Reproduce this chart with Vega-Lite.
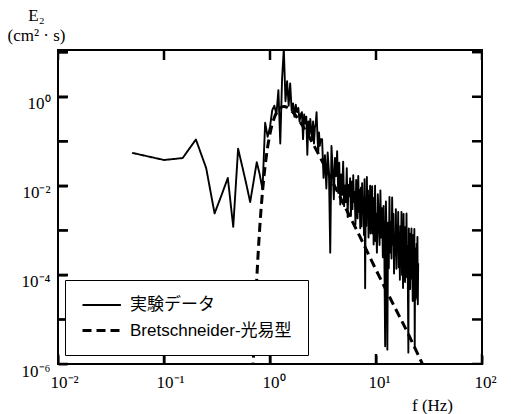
{
  "$schema": "https://vega.github.io/schema/vega-lite/v6.json",
  "width": 424,
  "height": 314,
  "autosize": {"type": "none"},
  "padding": {"left": 58, "top": 50, "right": 29, "bottom": 50},
  "background": "white",
  "datasets": {
    "xt": [{"v": 0.01}, {"v": 0.1}, {"v": 1}, {"v": 10}, {"v": 100}],
    "yt": [{"v": 1e-6}, {"v": 1e-5}, {"v": 1e-4}, {"v": 1e-3}, {"v": 1e-2}, {"v": 1e-1}, {"v": 1}, {"v": 10}],
    "exp": [
      {"f":0.05,"E":0.055},{"f":0.1,"E":0.038},{"f":0.15,"E":0.042},{"f":0.2,"E":0.11},{"f":0.25,"E":0.025},{"f":0.3,"E":0.0024},{"f":0.35,"E":0.0063},{"f":0.4,"E":0.015},{"f":0.45,"E":0.0012},{"f":0.5,"E":0.068},{"f":0.55,"E":0.026},{"f":0.6,"E":0.0105},{"f":0.65,"E":0.0043},{"f":0.7,"E":0.0125},{"f":0.75,"E":0.034},{"f":0.8,"E":0.018},{"f":0.85,"E":0.0083},{"f":0.9,"E":0.26},{"f":0.95,"E":0.126},
      {"f":1.0,"E":0.21},{"f":1.05,"E":0.5},{"f":1.1,"E":0.63},{"f":1.15,"E":0.4},{"f":1.2,"E":1.41},{"f":1.25,"E":0.089},{"f":1.3,"E":2.51},{"f":1.35,"E":12},{"f":1.4,"E":0.79},{"f":1.45,"E":2.24},{"f":1.5,"E":0.63},{"f":1.55,"E":2.0},{"f":1.6,"E":0.5},{"f":1.65,"E":0.71},{"f":1.7,"E":0.355},{"f":1.75,"E":0.66},{"f":1.8,"E":0.45},{"f":1.85,"E":0.56},{"f":1.9,"E":0.28},{"f":1.95,"E":0.4},
      {"f":2.0,"E":0.45},{"f":2.05,"E":0.112},{"f":2.1,"E":0.4},{"f":2.15,"E":0.25},{"f":2.2,"E":0.355},{"f":2.25,"E":0.05},{"f":2.3,"E":0.28},{"f":2.35,"E":0.141},{"f":2.4,"E":0.316},{"f":2.45,"E":0.178},{"f":2.5,"E":0.112},{"f":2.55,"E":0.28},{"f":2.6,"E":0.089},{"f":2.65,"E":0.2},{"f":2.7,"E":0.25},{"f":2.75,"E":0.45},{"f":2.8,"E":0.141},{"f":2.85,"E":0.056},{"f":2.9,"E":0.158},{"f":2.95,"E":0.079},{"f":3.0,"E":0.112},
      {"f":3.1,"E":0.112},{"f":3.2,"E":0.0151},{"f":3.3,"E":0.049},{"f":3.4,"E":0.0087},{"f":3.5,"E":0.056},{"f":3.6,"E":0.02},{"f":3.7,"E":0.000316},{"f":3.8,"E":0.079},{"f":3.9,"E":0.0245},{"f":4.0,"E":0.005},
      {"f":4.1,"E":0.042},{"f":4.2,"E":0.0166},{"f":4.3,"E":0.06},{"f":4.4,"E":0.0069},{"f":4.5,"E":0.033},{"f":4.6,"E":0.0038},{"f":4.7,"E":0.018},{"f":4.8,"E":0.0063},{"f":4.9,"E":0.035},{"f":5.0,"E":0.0035},
      {"f":5.1,"E":0.0102},{"f":5.2,"E":0.0043},{"f":5.3,"E":0.025},{"f":5.4,"E":0.002},{"f":5.5,"E":0.0105},{"f":5.6,"E":0.0058},{"f":5.7,"E":0.0148},{"f":5.8,"E":0.0021},{"f":5.9,"E":0.0123},{"f":6.0,"E":0.003},
      {"f":6.1,"E":0.0174},{"f":6.2,"E":0.0043},{"f":6.3,"E":0.0072},{"f":6.4,"E":0.00135},{"f":6.5,"E":0.0135},{"f":6.6,"E":0.005},{"f":6.7,"E":0.00186},{"f":6.8,"E":0.0166},{"f":6.9,"E":0.0026},{"f":7.0,"E":0.0081},
      {"f":7.1,"E":0.00112},{"f":7.2,"E":0.0091},{"f":7.3,"E":0.00123},{"f":7.4,"E":0.0115},{"f":7.5,"E":0.00245},{"f":7.6,"E":0.0051},{"f":7.7,"E":0.00079},{"f":7.8,"E":0.0141},{"f":7.9,"E":0.00005},{"f":8.0,"E":0.0054},
      {"f":8.1,"E":0.00126},{"f":8.2,"E":0.0158},{"f":8.3,"E":0.00224},{"f":8.4,"E":0.0079},{"f":8.5,"E":0.00069},{"f":8.6,"E":0.0034},{"f":8.7,"E":0.00148},{"f":8.8,"E":0.01},{"f":8.9,"E":0.00085},{"f":9.0,"E":0.005},
      {"f":9.1,"E":0.00214},{"f":9.2,"E":0.0098},{"f":9.3,"E":0.00085},{"f":9.4,"E":0.004},{"f":9.5,"E":0.00048},{"f":9.6,"E":0.0054},{"f":9.7,"E":0.00155},{"f":9.8,"E":0.01},{"f":9.9,"E":0.000575},{"f":10.0,"E":0.0024},
      {"f":10.2,"E":0.000316},{"f":10.4,"E":0.0065},{"f":10.6,"E":0.00174},{"f":10.8,"E":0.00047},{"f":11.0,"E":0.0079},{"f":11.2,"E":0.00069},{"f":11.4,"E":0.00316},{"f":11.6,"E":0.00025},{"f":11.8,"E":0.00355},{"f":12.0,"E":0.00025},
      {"f":12.2,"E":0.0000025},{"f":12.4,"E":0.00447},{"f":12.6,"E":0.00063},{"f":12.8,"E":0.0000021},{"f":13.0,"E":0.00148},{"f":13.2,"E":0.000141},{"f":13.4,"E":0.0056},{"f":13.6,"E":0.000316},{"f":13.8,"E":0.00151},{"f":14.0,"E":0.000234},
      {"f":14.2,"E":0.0055},{"f":14.4,"E":0.00048},{"f":14.6,"E":0.00234},{"f":14.8,"E":0.000107},{"f":15.0,"E":0.00078},{"f":15.2,"E":0.000275},{"f":15.4,"E":0.003},{"f":15.6,"E":0.000138},{"f":15.8,"E":0.00126},{"f":16.0,"E":0.00044},
      {"f":16.2,"E":0.0026},{"f":16.4,"E":0.000148},{"f":16.6,"E":0.00089},{"f":16.8,"E":0.000078},{"f":17.0,"E":0.00126},{"f":17.2,"E":0.000295},{"f":17.4,"E":0.0026},{"f":17.6,"E":0.0001},{"f":17.8,"E":0.0005},{"f":18.0,"E":0.000051},
      {"f":18.2,"E":0.00234},{"f":18.4,"E":0.000162},{"f":18.6,"E":0.0012},{"f":18.8,"E":0.000069},{"f":19.0,"E":0.00074},{"f":19.2,"E":0.000178},{"f":19.4,"E":0.0024},{"f":19.6,"E":0.000089},{"f":19.8,"E":0.00045},{"f":20.0,"E":0.000046},
      {"f":20.2,"E":0.0000018},{"f":20.4,"E":0.0011},{"f":20.6,"E":0.00021},{"f":20.8,"E":0.00085},{"f":21.0,"E":0.000048},{"f":21.2,"E":0.00065},{"f":21.4,"E":0.000083},{"f":21.6,"E":0.0011},{"f":21.8,"E":0.000141},{"f":22.0,"E":0.00031},
      {"f":22.2,"E":0.000026},{"f":22.4,"E":0.00079},{"f":22.6,"E":0.000186},{"f":22.8,"E":0.000045},{"f":23.0,"E":0.00107},{"f":23.2,"E":0.0000023},{"f":23.4,"E":0.00036},{"f":23.6,"E":0.000028},{"f":23.8,"E":0.0004},{"f":24.0,"E":0.0000316},
      {"f":24.2,"E":0.0005},{"f":24.4,"E":0.000079},{"f":24.6,"E":0.00071},{"f":24.8,"E":0.000022},{"f":25.0,"E":0.000182}
    ],
    "bret": [
      {"f":0.69,"E":6.7e-7},{"f":0.7,"E":1.73e-6},{"f":0.72,"E":9.5e-6},{"f":0.75,"E":7.9e-5},{"f":0.8,"E":0.00113},{"f":0.85,"E":0.00745},{"f":0.9,"E":0.0284},{"f":0.95,"E":0.0743},{"f":1.0,"E":0.148},{"f":1.1,"E":0.342},{"f":1.2,"E":0.51},{"f":1.35,"E":0.6},{"f":1.5,"E":0.55},{"f":1.7,"E":0.41},{"f":2.0,"E":0.235},{"f":2.5,"E":0.095},{"f":3.0,"E":0.042},{"f":4.0,"E":0.0108},{"f":5.0,"E":0.0037},{"f":7.0,"E":0.00075},{"f":10.0,"E":0.00013},{"f":15.0,"E":1.9e-5},{"f":20.0,"E":4.9e-6},{"f":25.0,"E":1.6e-6},{"f":28.0,"E":9e-7}
    ]
  },
  "config": {
    "view": {"stroke": "black", "strokeWidth": 2},
    "font": "Liberation Serif",
    "axis": {
      "grid": false, "domain": false,
      "labelColor": "black", "labelFont": "Liberation Serif", "labelFontSize": 17,
      "titleFont": "Liberation Serif", "titleFontSize": 17, "titleFontWeight": "normal", "titleColor": "black"
    },
    "legend": {
      "orient": "none", "legendX": 7, "legendY": 230,
      "padding": 16, "strokeColor": "black", "fillColor": "white",
      "symbolType": "M-1,0H3.8", "symbolSize": 256, "symbolStrokeColor": "black",
      "labelFont": "Liberation Sans, Noto Sans CJK JP", "labelFontSize": 17, "labelColor": "black", "labelLimit": 400,
      "labelOffset": 30, "rowPadding": 8, "zindex": 2
    }
  },
  "resolve": {"axis": {"x": "independent", "y": "independent"}},
  "layer": [
    {
      "data": {"name": "exp"},
      "mark": {"type": "line", "clip": true, "color": "black", "strokeJoin": "round"},
      "encoding": {
        "x": {
          "field": "f", "type": "quantitative",
          "scale": {"type": "log", "domain": [0.01, 100], "nice": false},
          "axis": {
            "orient": "bottom", "values": [0.01, 0.1, 1, 10, 100],
            "ticks": true, "tickSize": -9, "tickColor": "black", "tickWidth": 2, "zindex": 1,
            "labelExpr": "datum.value < 0.05 ? '10⁻²' : datum.value < 0.5 ? '10⁻¹' : datum.value < 5 ? '10⁰' : datum.value < 50 ? '10¹' : '10²'",
            "labelAlign": "left", "labelOffset": -8, "labelPadding": 19, "labelBaseline": "top",
            "labelFlush": false, "labelOverlap": false,
            "title": "f (Hz)", "titleX": 374, "titleY": 46, "titleAlign": "center", "titleBaseline": "alphabetic"
          }
        },
        "y": {
          "field": "E", "type": "quantitative",
          "scale": {"type": "log", "domain": [1e-6, 11.2], "nice": false},
          "axis": {
            "orient": "left", "values": [1e-6, 1e-5, 1e-4, 1e-3, 1e-2, 1e-1, 1, 10],
            "ticks": true, "tickSize": -9, "tickColor": "black", "tickWidth": 2, "zindex": 1,
            "labelExpr": "datum.value > 0.5 && datum.value < 2 ? '10⁰' : datum.value > 0.005 && datum.value < 0.02 ? '10⁻²' : datum.value > 0.00005 && datum.value < 0.0002 ? '10⁻⁴' : datum.value > 0.0000005 && datum.value < 0.000002 ? '10⁻⁶' : ''",
            "labelOffset": 7, "labelPadding": 17, "labelFlush": false, "labelOverlap": false,
            "title": ["E₂", "(cm² · s)"], "titleAngle": 0, "titleAlign": "center",
            "titleX": -22, "titleY": -30, "titleBaseline": "alphabetic", "titleLineHeight": 20
          }
        },
        "strokeDash": {
          "datum": "実験データ", "type": "nominal",
          "scale": {"domain": ["実験データ", "Bretschneider-光易型"], "range": [[1, 0], [9, 5]]},
          "legend": {"title": null, "labelExpr": "datum.label + '\u00a0\u00a0\u00a0'"}
        },
        "strokeWidth": {
          "datum": "実験データ", "type": "ordinal",
          "scale": {"domain": ["実験データ", "Bretschneider-光易型"], "range": [1.9, 3]},
          "legend": {"title": null, "labelExpr": "datum.label + '\u00a0\u00a0\u00a0'"}
        }
      }
    },
    {
      "data": {"name": "bret"},
      "mark": {"type": "line", "clip": true, "color": "black", "interpolate": "monotone", "strokeCap": "butt"},
      "encoding": {
        "x": {"field": "f", "type": "quantitative", "axis": null},
        "y": {"field": "E", "type": "quantitative", "axis": null},
        "strokeDash": {"datum": "Bretschneider-光易型", "type": "nominal"},
        "strokeWidth": {"datum": "Bretschneider-光易型", "type": "ordinal"}
      }
    },
    {
      "data": {"name": "xt"},
      "mark": {"type": "tick", "orient": "vertical", "size": 20, "thickness": 2.5, "color": "black", "opacity": 1, "clip": true},
      "encoding": {
        "x": {"field": "v", "type": "quantitative", "axis": null},
        "y": {"datum": 1e-6, "type": "quantitative", "axis": null}
      }
    },
    {
      "data": {"name": "xt"},
      "mark": {"type": "tick", "orient": "vertical", "size": 20, "thickness": 2.5, "color": "black", "opacity": 1, "clip": true},
      "encoding": {
        "x": {"field": "v", "type": "quantitative", "axis": null},
        "y": {"datum": 11.2, "type": "quantitative", "axis": null}
      }
    },
    {
      "data": {"name": "yt"},
      "mark": {"type": "tick", "orient": "horizontal", "size": 20, "thickness": 2.5, "color": "black", "opacity": 1, "clip": true},
      "encoding": {
        "y": {"field": "v", "type": "quantitative", "axis": null},
        "x": {"datum": 0.01, "type": "quantitative", "axis": null}
      }
    },
    {
      "data": {"name": "yt"},
      "mark": {"type": "tick", "orient": "horizontal", "size": 20, "thickness": 2.5, "color": "black", "opacity": 1, "clip": true},
      "encoding": {
        "y": {"field": "v", "type": "quantitative", "axis": null},
        "x": {"datum": 100, "type": "quantitative", "axis": null}
      }
    }
  ]
}
